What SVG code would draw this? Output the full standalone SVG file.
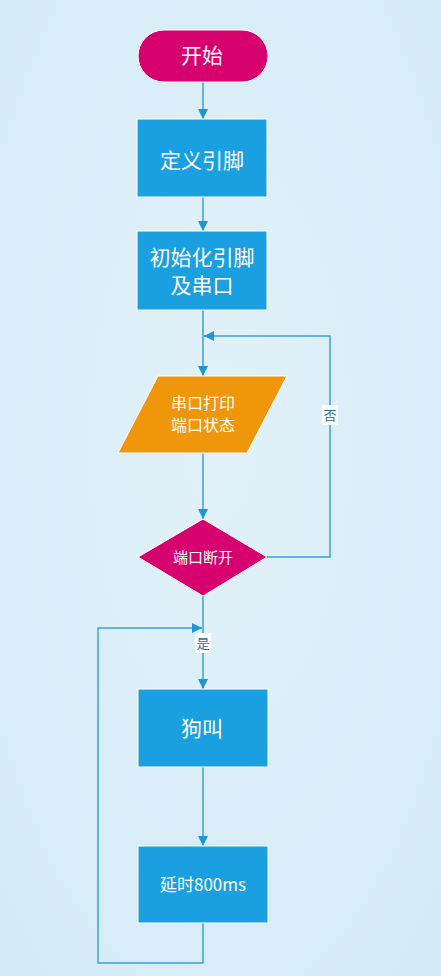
<svg xmlns="http://www.w3.org/2000/svg" width="441" height="976" viewBox="0 0 441 976">
<defs>
<radialGradient id="bg" cx="0.5" cy="0.45" r="0.7">
<stop offset="0" stop-color="#e2f1f9"/>
<stop offset="1" stop-color="#d4ebf7"/>
</radialGradient>
<marker id="ah" viewBox="0 0 10 10" refX="10" refY="5" markerWidth="10" markerHeight="10" markerUnits="userSpaceOnUse" orient="auto">
<path d="M0,0 L10,5 L0,10 z" fill="#1e96d6"/>
</marker>
<style>
.ln{fill:none;stroke:#3aa2dc;stroke-width:1.5}
.bx{fill:#1aa0e0;stroke:#ffffff;stroke-width:1}
.pk{fill:#d6006e;stroke:#ffffff;stroke-width:1}
.or{fill:#f0960a;stroke:#ffffff;stroke-width:1}
.t{font-family:"Noto Sans CJK SC","Noto Sans",sans-serif;fill:#ffffff;text-anchor:middle}
.lb{font-family:"Noto Sans CJK SC","Noto Sans",sans-serif;fill:#2a6f9a;text-anchor:middle;font-size:13px}
</style>
</defs>
<rect width="441" height="976" fill="url(#bg)"/>
<g id="connectors">
<line class="ln" x1="203" y1="82" x2="203" y2="119" marker-end="url(#ah)"/>
<line class="ln" x1="203" y1="197" x2="203" y2="231" marker-end="url(#ah)"/>
<line class="ln" x1="203" y1="310" x2="203" y2="376" marker-end="url(#ah)"/>
<line class="ln" x1="203" y1="453" x2="203" y2="519" marker-end="url(#ah)"/>
<polyline class="ln" points="267,557 330,557 330,336 204,336" marker-end="url(#ah)"/>
<rect x="322" y="405" width="16" height="20" fill="#ffffff"/>
<text class="lb" x="330" y="420">否</text>
<line class="ln" x1="203" y1="596" x2="203" y2="689" marker-end="url(#ah)"/>
<rect x="195" y="633" width="16" height="20" fill="#ffffff"/>
<text class="lb" x="203" y="648">是</text>
<line class="ln" x1="203" y1="767" x2="203" y2="846" marker-end="url(#ah)"/>
<polyline class="ln" points="203,923 203,963 98,963 98,628 202,628" marker-end="url(#ah)"/>
</g>
<g id="start">
<rect class="pk" x="138" y="30" width="130" height="52" rx="26"/>
<text class="t" x="202" y="63" font-size="21">开始</text>
</g>
<g id="define">
<rect class="bx" x="137" y="119" width="130" height="78"/>
<text class="t" x="202" y="168" font-size="21">定义引脚</text>
</g>
<g id="init">
<rect class="bx" x="137" y="231" width="130" height="79"/>
<text class="t" x="202" y="265" font-size="21">初始化引脚</text>
<text class="t" x="202" y="293" font-size="21">及串口</text>
</g>
<g id="print">
<polygon class="or" points="158,376 287,376 247,453 118,453"/>
<text class="t" x="203" y="409" font-size="16">串口打印</text>
<text class="t" x="203" y="431" font-size="16">端口状态</text>
</g>
<g id="decision">
<polygon class="pk" points="203,519 267,557 203,596 138,557"/>
<text class="t" x="203" y="563" font-size="15">端口断开</text>
</g>
<g id="bark">
<rect class="bx" x="138" y="689" width="130" height="78"/>
<text class="t" x="202" y="736" font-size="21">狗叫</text>
</g>
<g id="delay">
<rect class="bx" x="138" y="846" width="130" height="77"/>
<text class="t" x="203" y="891" font-size="17">延时800ms</text>
</g>
</svg>
